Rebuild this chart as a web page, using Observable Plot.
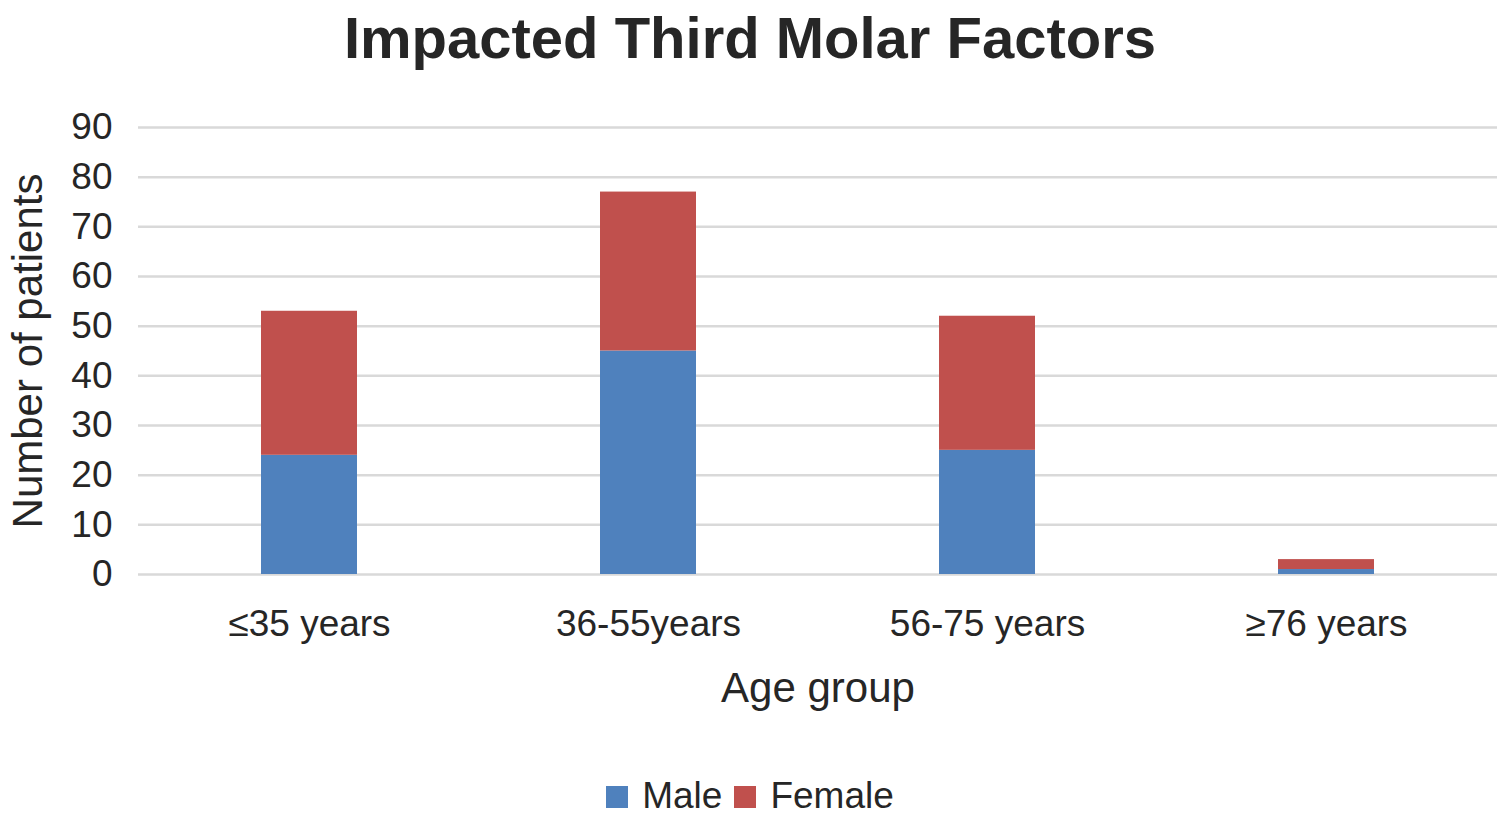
<!DOCTYPE html>
<html>
<head>
<meta charset="utf-8">
<script src="https://cdn.jsdelivr.net/npm/d3@7"></script>
<script src="https://cdn.jsdelivr.net/npm/@observablehq/plot@0.6"></script>
<style>
  body { margin: 0; background: #fff; font-family: "Liberation Sans", Arial, sans-serif; color: #262626; }
  #wrap { position: relative; width: 1500px; height: 830px; }
  #title { position: absolute; top: 0; left: 0; width: 1500px; height: 80px; text-align: center; font-weight: bold; font-size: 58px; line-height: 76px; color: #262626; }
  #chart { position: absolute; top: 80px; left: 0; }
  #legend { position: absolute; top: 772px; left: 0; width: 1500px; text-align: center; font-size: 37px; line-height: 48px; color: #262626; }
  #legend span.sw { display: inline-block; width: 22px; height: 22px; vertical-align: 0px; margin-right: 14px; }
  #legend span.item { margin: 0 6px; }
</style>
</head>
<body>
<div id="wrap">
  <div id="title">Impacted Third Molar Factors</div>
  <div id="chart"></div>
  <div id="legend"></div>
</div>
<script>
const ageGroups = ["≤35 years", "36-55years", "56-75 years", "≥76 years"];
const series = ["Male", "Female"];
const maleValues = [24, 45, 25, 1];
const femaleValues = [29, 32, 27, 2];
const yTicks = [0, 10, 20, 30, 40, 50, 60, 70, 80, 90];
const colors = ["#4f81bd", "#c0504d"];

const data = [];
ageGroups.forEach((g, i) => {
  data.push({group: g, sex: "Male", value: maleValues[i]});
  data.push({group: g, sex: "Female", value: femaleValues[i]});
});

const plot = Plot.plot({
  width: 1500,
  height: 640,
  marginLeft: 138,
  marginRight: 3,
  marginTop: 47,
  marginBottom: 146,
  style: { fontFamily: "Liberation Sans, Arial, sans-serif", fontSize: "37px", color: "#262626", background: "white" },
  x: { domain: ageGroups, paddingInner: 0.718, paddingOuter: 0.359, label: null },
  y: { domain: [0, 90], label: null },
  color: { domain: series, range: colors },
  marks: [
    Plot.gridY(yTicks, { stroke: "#d9d9d9", strokeOpacity: 1, strokeWidth: 2.5 }),
    Plot.barY(data, Plot.stackY({ x: "group", y: "value", fill: "sex", order: series })),
    Plot.axisY(yTicks, { tickSize: 0, tickPadding: 26, fontSize: 37, label: "Number of patients", labelAnchor: "center", labelArrow: "none", labelOffset: 126 }),
    Plot.axisX({ tickSize: 0, tickPadding: 35, fontSize: 37, label: "Age group", labelAnchor: "center", labelArrow: "none", labelOffset: 127 })
  ]
});
plot.querySelectorAll("[aria-label='y-axis label'] text, [aria-label='x-axis label'] text").forEach(t => t.setAttribute("font-size", "42"));
document.getElementById("chart").appendChild(plot);

const legend = document.getElementById("legend");
series.forEach((s, i) => {
  const item = document.createElement("span");
  item.className = "item";
  const sw = document.createElement("span");
  sw.className = "sw";
  sw.style.background = colors[i];
  item.appendChild(sw);
  item.appendChild(document.createTextNode(s));
  legend.appendChild(item);
});
</script>
</body>
</html>
